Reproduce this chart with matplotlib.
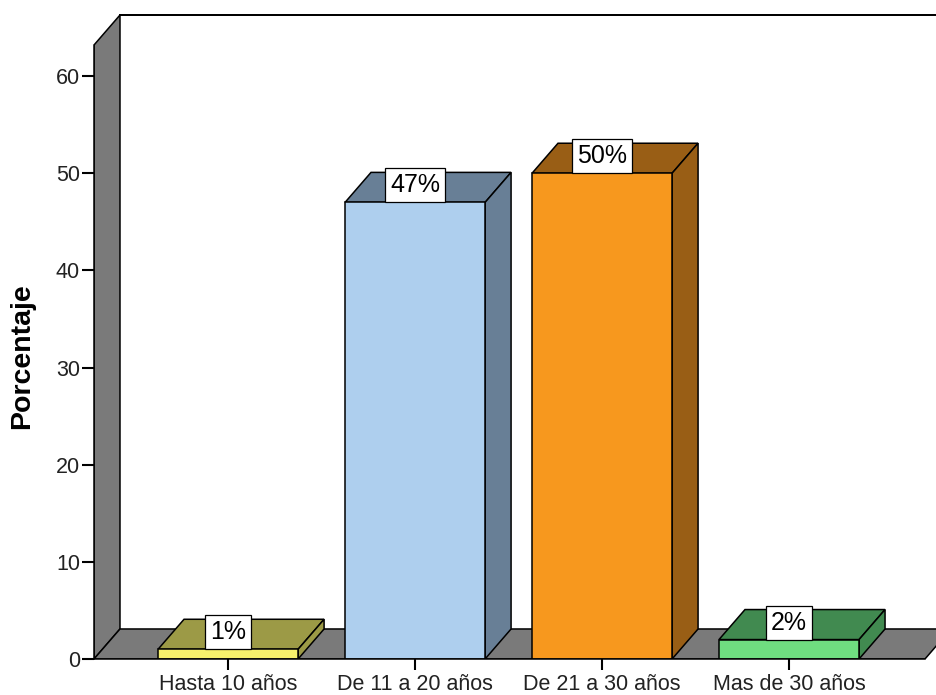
import matplotlib
matplotlib.use('Agg')
import matplotlib.pyplot as plt
from matplotlib.patches import Polygon

plt.rcParams['font.family'] = ['Liberation Sans', 'DejaVu Sans']

# datos
categorias = ['Hasta 10 años', 'De 11 a 20 años', 'De 21 a 30 años', 'Mas de 30 años']
porcentajes = [1, 47, 50, 2]
color_frente = ['#f7f16c', '#aecfee', '#f7981e', '#6fdd80']
color_lado = ['#9c9a46', '#687f96', '#995e15', '#418a50']
yticks = [0, 10, 20, 30, 40, 50, 60]

# geometria del efecto 3D (en unidades de datos)
ancho = 0.749
dx, dy = 0.139, 3.09
x0, x_fin = -0.717, 3.727
alto_pared = 63.2
ymax = alto_pared + dy
gris = '#7a7a7a'
lw = 1.1

fig = plt.figure(figsize=(9.36, 6.95), dpi=100)
ax = fig.add_axes([94 / 936, 36 / 695, 842 / 936, 644 / 695])
ax.set_xlim(x0, 3.786)
ax.set_ylim(0, ymax)

# pared izquierda y piso
pared = Polygon([(x0, 0), (x0, alto_pared), (x0 + dx, ymax), (x0 + dx, dy)],
                closed=True, facecolor=gris, edgecolor='black', lw=lw, zorder=1)
piso = Polygon([(x0, 0), (x0 + dx, dy), (x_fin + dx, dy), (x_fin, 0)],
               closed=True, facecolor=gris, edgecolor='black', lw=lw, zorder=1)
ax.add_patch(pared)
ax.add_patch(piso)
ax.plot([x0 + dx, 3.786], [ymax, ymax], color='black', lw=lw * 1.3,
        clip_on=False, zorder=1)

# barras
for i, (v, cf, cl) in enumerate(zip(porcentajes, color_frente, color_lado)):
    izq, der = i - ancho / 2, i + ancho / 2
    tapa = Polygon([(izq, v), (izq + dx, v + dy), (der + dx, v + dy), (der, v)],
                   closed=True, facecolor=cl, edgecolor='black', lw=lw, zorder=3)
    lado = Polygon([(der, 0), (der + dx, dy), (der + dx, v + dy), (der, v)],
                   closed=True, facecolor=cl, edgecolor='black', lw=lw, zorder=3)
    ax.add_patch(tapa)
    ax.add_patch(lado)
    ax.bar(i, v, width=ancho, color=cf, edgecolor='black', lw=lw, zorder=4)
    ax.annotate(f'{v}%', xy=(i, v), xytext=(0, 3.6), textcoords='offset points',
                ha='center', va='bottom', fontsize=18, zorder=5,
                bbox=dict(boxstyle='square,pad=0.2', facecolor='white',
                          edgecolor='black', lw=0.9))

# ejes
for s in ['top', 'right']:
    ax.spines[s].set_visible(False)
ax.spines['left'].set_bounds(0, alto_pared)
ax.spines['bottom'].set_bounds(x0, x_fin)
for s in ['left', 'bottom']:
    ax.spines[s].set_linewidth(lw)
    ax.spines[s].set_zorder(6)

ax.set_xticks(range(len(categorias)))
ax.set_xticklabels(categorias, fontsize=15.5, color='#222222')
ax.set_yticks(yticks)
ax.set_yticklabels([str(t) for t in yticks], fontsize=15.5, color='#222222')
ax.tick_params(axis='x', length=8, width=1.5, pad=3)
ax.tick_params(axis='y', length=9, width=1.5, pad=1)

ax.set_ylabel('Porcentaje', fontsize=20.5, fontweight='bold')
ax.yaxis.set_label_coords((35 - 94) / 842, (659 - 356) / 644)

fig.savefig('out.png', dpi=100)
